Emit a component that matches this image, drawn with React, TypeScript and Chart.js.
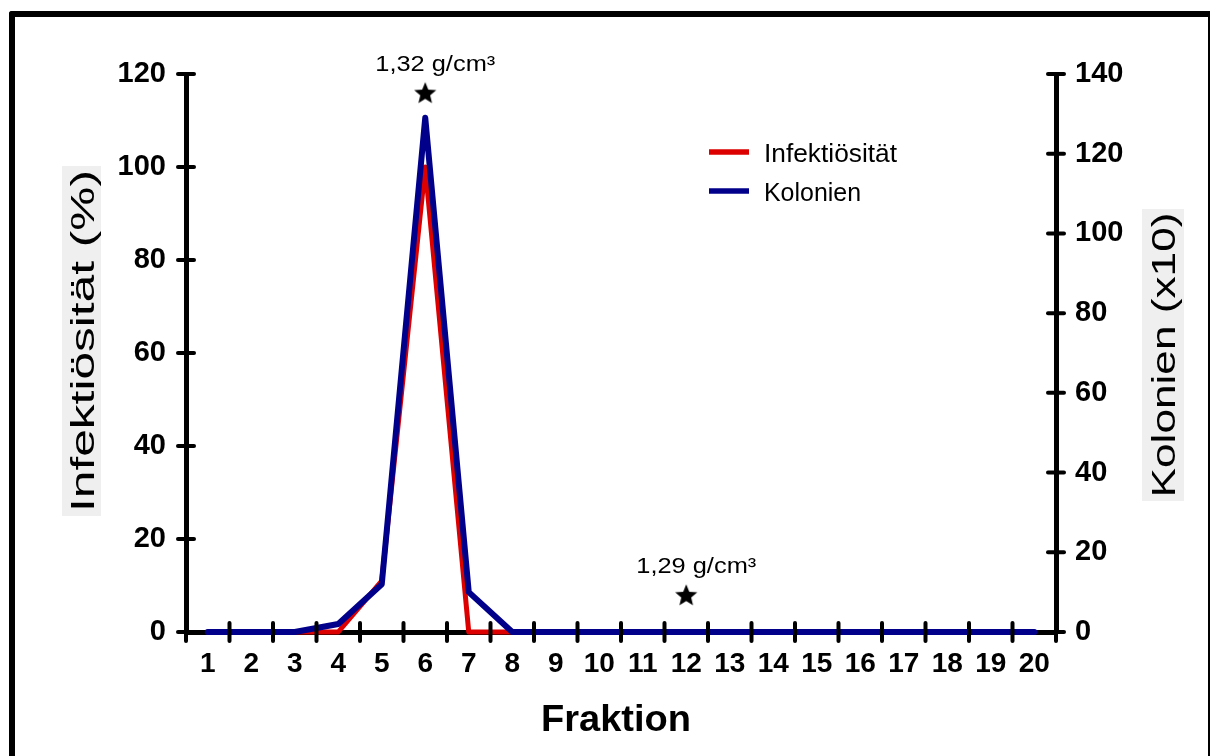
import React, { useEffect, useRef } from 'react';
import { Chart, registerables } from 'chart.js';

Chart.register(...registerables);

const FONT = '"Liberation Sans", Arial, Helvetica, sans-serif';

// Gradient fractions along the x axis
const fractions = ['1', '2', '3', '4', '5', '6', '7', '8', '9', '10', '11', '12', '13', '14', '15', '16', '17', '18', '19', '20'];
// Infectivity in percent (left axis)
const infectivity = [0, 0, 0, 0, 11, 100, 0, 0, 0, 0, 0, 0, 0, 0, 0, 0, 0, 0, 0, 0];
// Colony counts, x10 (right axis)
const colonies = [0, 0, 0, 2, 12, 129, 10, 0, 0, 0, 0, 0, 0, 0, 0, 0, 0, 0, 0, 0];
// Density markers (star) with their buoyant density
const densityFractions = ['6', '12'];
const densityLevels = [116, 8];
const densityLabels = ['1,32 g/cm³', '1,29 g/cm³'];

const seriesNames = ['Infektiösität', 'Kolonien'];
const seriesColors = ['#dd0000', '#00008b'];
const xTitle = 'Fraktion';
const yLeftTitle = 'Infektiösität (%)';
const yRightTitle = 'Kolonien (x10)';

function makeStar(outer: number, inner: number): HTMLCanvasElement {
  const size = 26;
  const c = document.createElement('canvas');
  c.width = size;
  c.height = size;
  const g = c.getContext('2d')!;
  g.translate(size / 2, size / 2 + outer * 0.095);
  g.beginPath();
  for (let i = 0; i < 10; i++) {
    const r = i % 2 === 0 ? outer : inner;
    const a = -Math.PI / 2 + (i * Math.PI) / 5;
    g.lineTo(r * Math.cos(a), r * Math.sin(a));
  }
  g.closePath();
  g.fillStyle = '#000';
  g.fill();
  return c;
}

// Draws text stretched/compressed horizontally to a given width
function fitText(
  ctx: CanvasRenderingContext2D,
  text: string,
  x: number,
  y: number,
  font: string,
  width: number,
  align: CanvasTextAlign,
  angle = 0
) {
  ctx.save();
  ctx.font = font;
  const natural = ctx.measureText(text).width;
  ctx.translate(x, y);
  if (angle) ctx.rotate(angle);
  ctx.scale(width / natural, 1);
  ctx.textAlign = align;
  ctx.textBaseline = 'alphabetic';
  ctx.fillStyle = '#000';
  ctx.fillText(text, 0, 0);
  ctx.restore();
}

const decorPlugin = {
  id: 'decor',
  afterDatasetsDraw(chart: any) {
    const ctx: CanvasRenderingContext2D = chart.ctx;
    const area = chart.chartArea;
    const xs = chart.scales.x;
    const yl = chart.scales.y;
    const yr = chart.scales.y1;

    // tick marks crossing the axis lines
    ctx.save();
    ctx.strokeStyle = '#000';
    ctx.lineCap = 'round';
    ctx.lineWidth = 4;
    const seg = (x1: number, y1: number, x2: number, y2: number) => {
      ctx.beginPath();
      ctx.moveTo(x1, y1);
      ctx.lineTo(x2, y2);
      ctx.stroke();
    };
    for (let i = 0; i <= fractions.length; i++) {
      const px = xs.getPixelForValue(i - 0.5);
      seg(px, area.bottom - 9, px, area.bottom + 9);
    }
    yl.ticks.forEach((t: any) => {
      const py = yl.getPixelForValue(t.value);
      seg(area.left - 8, py, area.left + 8, py);
    });
    yr.ticks.forEach((t: any) => {
      const py = yr.getPixelForValue(t.value);
      seg(area.right - 8, py, area.right + 8, py);
    });
    ctx.restore();

    // density labels above the star markers
    const meta = chart.getDatasetMeta(2);
    meta.data.forEach((pt: any, i: number) => {
      fitText(ctx, densityLabels[i], pt.x + 10, pt.y - 22, `22px ${FONT}`, 120, 'center');
    });

    // legend inside the plot
    const lx = area.left + 523;
    const rows = [
      { lineY: 152, textY: 161.5, width: 133 },
      { lineY: 191, textY: 201, width: 97 },
    ];
    rows.forEach((r, i) => {
      ctx.save();
      ctx.strokeStyle = seriesColors[i];
      ctx.lineWidth = 5.5;
      ctx.beginPath();
      ctx.moveTo(lx, r.lineY);
      ctx.lineTo(lx + 40, r.lineY);
      ctx.stroke();
      ctx.restore();
      fitText(ctx, seriesNames[i], lx + 55, r.textY, `25px ${FONT}`, r.width, 'left');
    });
  },
  afterDraw(chart: any) {
    const ctx: CanvasRenderingContext2D = chart.ctx;
    const area = chart.chartArea;
    // axis titles
    ctx.save();
    ctx.fillStyle = '#efefef';
    ctx.fillRect(62, 166, 39, 350);
    ctx.fillRect(1142, 209, 42, 292);
    ctx.restore();
    fitText(ctx, yLeftTitle, 94, 341, `34px ${FONT}`, 342, 'center', -Math.PI / 2);
    fitText(ctx, yRightTitle, 1175, 355, `34px ${FONT}`, 285, 'center', -Math.PI / 2);
    fitText(ctx, xTitle, (area.left + area.right) / 2 - 5, 731, `bold 36px ${FONT}`, 150, 'center');
  },
};

export default function App() {
  const canvasRef = useRef<HTMLCanvasElement | null>(null);

  useEffect(() => {
    document.body.style.margin = '0';
    const canvas = canvasRef.current;
    if (!canvas) return;
    const star = makeStar(11.6, 5.2);

    const chart = new Chart(canvas, {
      type: 'line',
      data: {
        labels: fractions,
        datasets: [
          {
            label: seriesNames[0],
            data: infectivity,
            borderColor: seriesColors[0],
            backgroundColor: seriesColors[0],
            borderWidth: 5,
            pointRadius: 0,
            tension: 0,
            borderJoinStyle: 'round',
            borderCapStyle: 'round',
            yAxisID: 'y',
            order: 2,
            clip: false,
          },
          {
            label: seriesNames[1],
            data: colonies,
            borderColor: seriesColors[1],
            backgroundColor: seriesColors[1],
            borderWidth: 6,
            pointRadius: 0,
            tension: 0,
            borderJoinStyle: 'round',
            borderCapStyle: 'round',
            yAxisID: 'y1',
            order: 1,
            clip: false,
          },
          {
            label: 'Dichte',
            data: densityFractions.map((f, i) => ({ x: f, y: densityLevels[i] })),
            showLine: false,
            pointStyle: star,
            pointRadius: 12,
            pointHoverRadius: 12,
            yAxisID: 'y',
            order: 0,
            clip: false,
          },
        ],
      },
      options: {
        responsive: false,
        devicePixelRatio: 1,
        animation: false,
        events: [],
        layout: { padding: { left: 0, right: 0, top: 74, bottom: 0 } },
        plugins: {
          legend: { display: false },
          tooltip: { enabled: false },
          title: { display: false },
        },
        scales: {
          x: {
            type: 'category',
            offset: true,
            grid: { display: false, drawTicks: false, offset: true },
            border: { display: true, color: '#000', width: 5 },
            ticks: {
              color: '#000',
              font: { family: FONT, size: 28, weight: 'bold' },
              padding: 15,
              maxRotation: 0,
              autoSkip: false,
            },
            afterFit: (s: any) => {
              s.height = 124;
            },
          },
          y: {
            type: 'linear',
            position: 'left',
            min: 0,
            max: 120,
            grid: { display: false, drawTicks: false },
            border: { display: true, color: '#000', width: 5 },
            ticks: { stepSize: 20, color: '#000', font: { family: FONT, size: 29, weight: 'bold' }, padding: 20 },
            afterFit: (s: any) => {
              s.width = 186;
            },
          },
          y1: {
            type: 'linear',
            position: 'right',
            min: 0,
            max: 140,
            grid: { display: false, drawTicks: false },
            border: { display: true, color: '#000', width: 5 },
            ticks: { stepSize: 20, color: '#000', font: { family: FONT, size: 29, weight: 'bold' }, padding: 19 },
            afterFit: (s: any) => {
              s.width = 154;
            },
          },
        },
      },
      plugins: [decorPlugin],
    });

    return () => chart.destroy();
  }, []);

  return (
    <div style={{ position: 'relative', width: 1210, height: 756, overflow: 'hidden', background: '#fff' }}>
      <div
        style={{
          position: 'absolute',
          left: 9,
          top: 11,
          width: 1201,
          height: 800,
          boxSizing: 'border-box',
          borderLeft: '6px solid #000',
          borderTop: '6px solid #000',
          borderRight: '2px solid #000',
          borderTopLeftRadius: 3,
        }}
      />
      <canvas ref={canvasRef} width={1210} height={756} style={{ position: 'absolute', left: 0, top: 0 }} />
    </div>
  );
}
